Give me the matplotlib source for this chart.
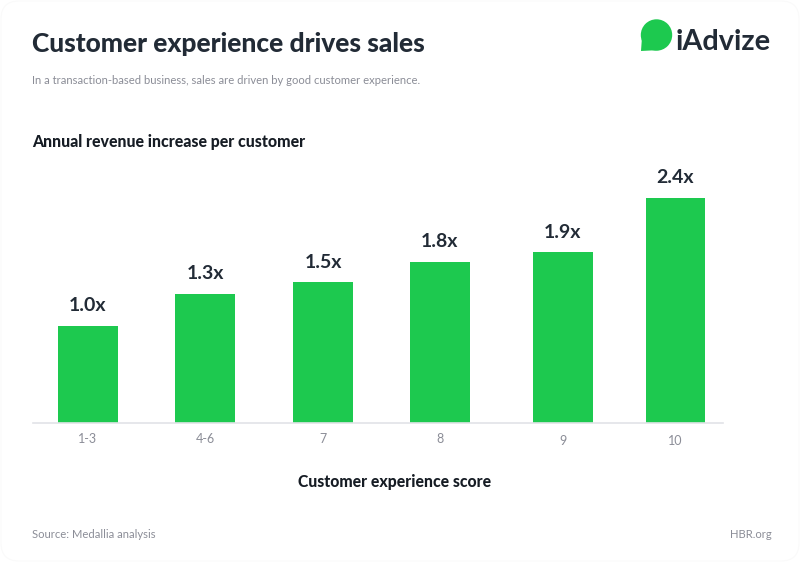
#!/usr/bin/env python3
import numpy as np
import matplotlib
matplotlib.use("Agg")
import matplotlib.pyplot as plt
from matplotlib.patches import Circle, Polygon, FancyBboxPatch

categories = ["1-3", "4-6", "7", "8", "9", "10"]
bar_labels = ["1.0x", "1.3x", "1.5x", "1.8x", "1.9x", "2.4x"]
# heights as drawn in the picture, not quite proportional to the labels
bar_values = [1.00, 1.33, 1.45, 1.66, 1.76, 2.32]

GREEN = "#1dc94f"
DARK = "#222b36"
GREY = "#8b8d97"

W, H = 800, 562

plt.rcParams["font.family"] = ["Lato", "DejaVu Sans"]

fig = plt.figure(figsize=(W / 100, H / 100), dpi=100, facecolor="white")

# overlay in pixel coords for the page furniture
page = fig.add_axes([0, 0, 1, 1])
page.set_xlim(0, W)
page.set_ylim(H, 0)
page.axis("off")

page.add_patch(FancyBboxPatch((1, 1), W - 2, H - 2, boxstyle="round,pad=0,rounding_size=18",
                              fc="white", ec="#fafafa", lw=0.8))

page.text(32, 43.5, "Customer experience drives sales", fontsize=19, fontweight="black",
          color=DARK, va="center", ha="left")
page.text(32, 80, "In a transaction-based business, sales are driven by good customer experience.",
          fontsize=8.1, color=GREY, va="center", ha="left")
page.text(32, 142, "Annual revenue increase per customer", fontsize=11.4, fontweight="black",
          color="#161c24", va="center", ha="left")
page.text(395, 482, "Customer experience score", fontsize=11.3, fontweight="black",
          color="#161c24", va="center", ha="center")
page.text(32, 534, "Source: Medallia analysis", fontsize=8.1, color=GREY, va="center", ha="left")
page.text(772, 534, "HBR.org", fontsize=8.1, color=GREY, va="center", ha="right")

# logo
page.add_patch(Circle((656.5, 35), 15.7, fc=GREEN, ec="none"))
page.add_patch(Polygon([[642, 37], [641, 51], [660, 50]], closed=True, fc=GREEN, ec="none"))
page.text(771, 42, "iAdvize", fontsize=20.8, fontweight="bold", color=DARK, va="center", ha="right")

# chart
ax = fig.add_axes([33 / W, 1 - 423 / H, 689.5 / W, 235 / H])
ax.patch.set_alpha(0)

x = np.arange(len(categories), dtype=float)
x_nudge = np.array([0, -0.004, 0, -0.006, 0.04, 0])
x = x + x_nudge

ax.bar(x, bar_values, width=0.51, color=GREEN)
ax.set_xlim(-0.468, 5.4)
ax.set_ylim(0, 2.42)

for xi, v, lab in zip(x, bar_values, bar_labels):
    ax.annotate(lab, (xi, v), xytext=(0, 8.3), textcoords="offset points", ha="center",
                va="bottom", fontsize=14, fontweight="bold", color=DARK, annotation_clip=False)

ax.set_yticks([])
ax.set_xticks(x)
ax.set_xticklabels(categories, fontsize=9, color=GREY)
ax.tick_params(axis="x", length=0, pad=7)
for lab, extra in zip(ax.get_xticklabels(), [0, 0, 0, 0, 2, 2]):
    lab.set_y(-extra / 235)

for s in ["top", "left", "right"]:
    ax.spines[s].set_visible(False)
ax.spines["bottom"].set_color("#e2e3e8")
ax.spines["bottom"].set_linewidth(1.2)

fig.savefig("out.png", dpi=100)
